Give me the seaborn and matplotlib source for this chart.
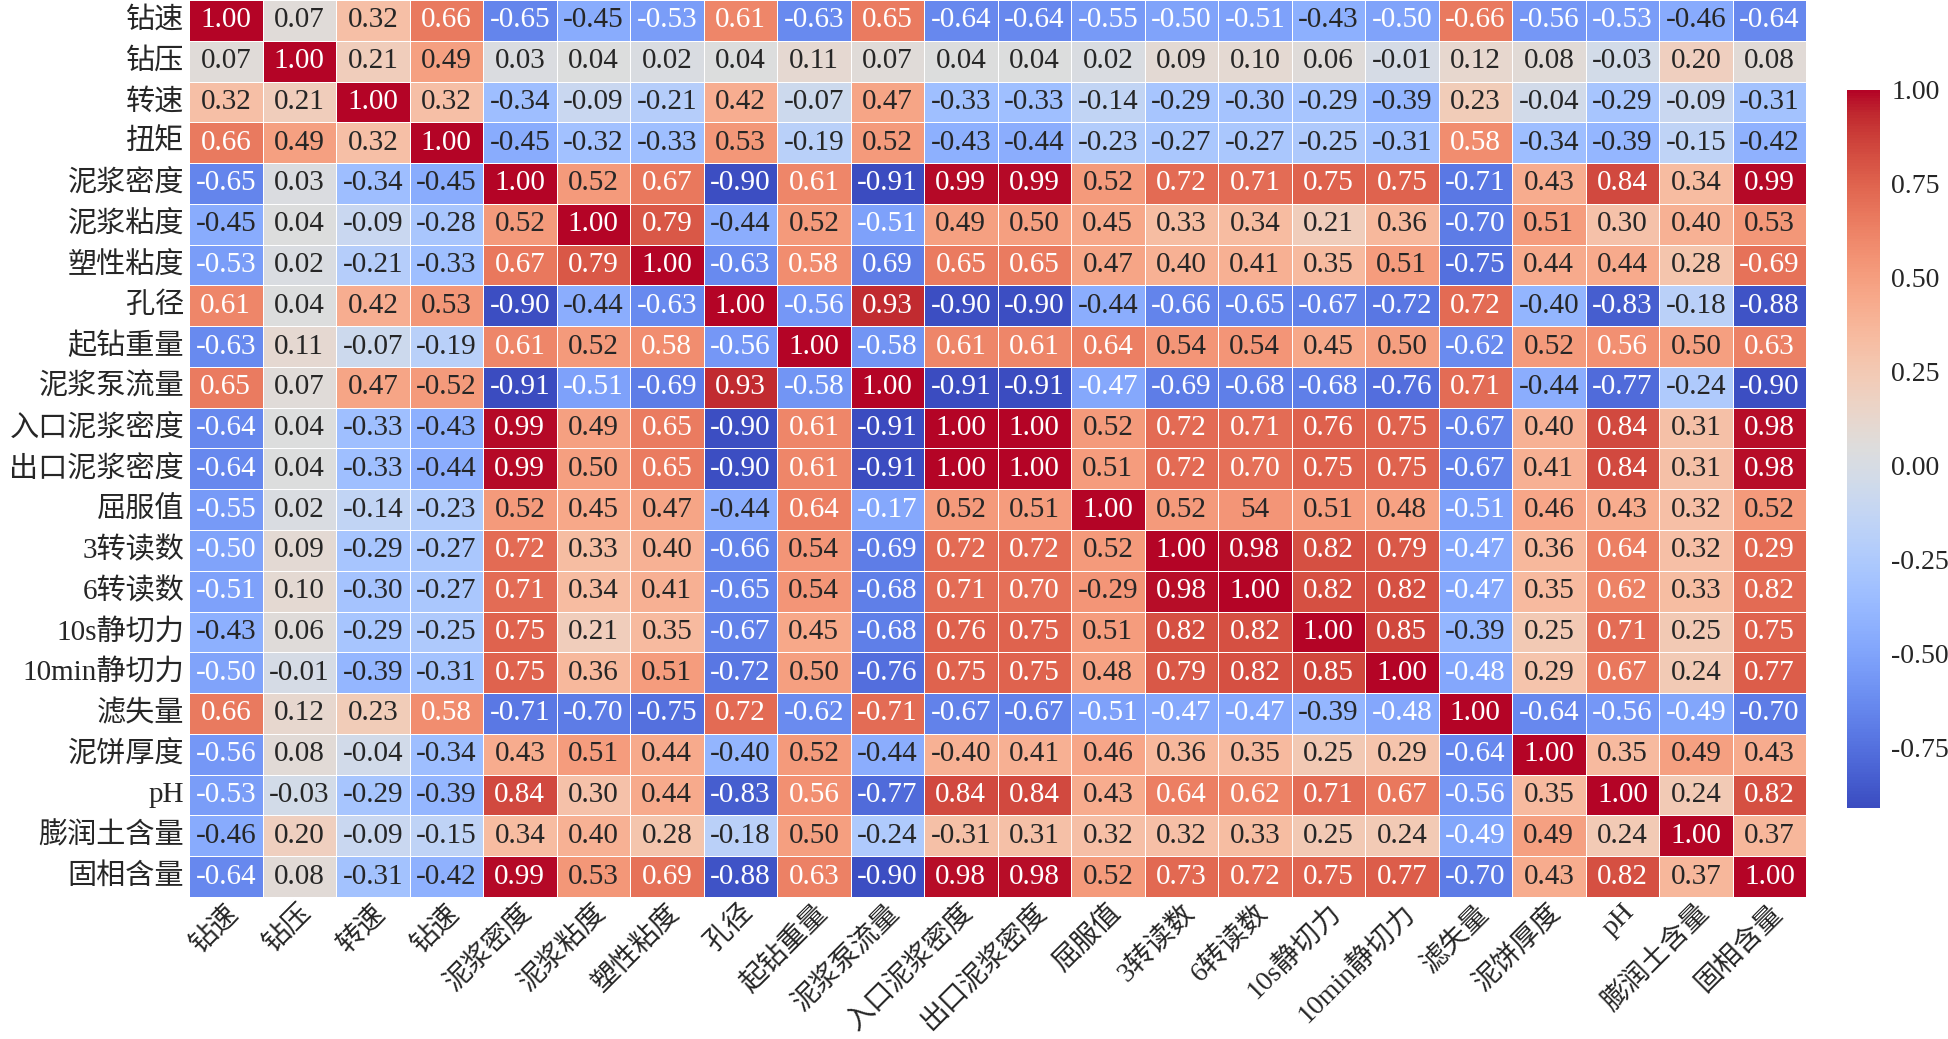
import numpy as np
import pandas as pd
import seaborn as sns
import matplotlib.pyplot as plt

sns.set_theme(style="white")
plt.rcParams['font.family'] = ['Liberation Serif', 'Noto Sans CJK SC', 'DejaVu Sans']
plt.rcParams['axes.unicode_minus'] = False

# row labels (y axis) and column labels (x axis, 4th one printed as 钻速 in the source)
row_names = ["钻速", "钻压", "转速", "扭矩", "泥浆密度", "泥浆粘度", "塑性粘度", "孔径",
             "起钻重量", "泥浆泵流量", "入口泥浆密度", "出口泥浆密度", "屈服值", "3转读数",
             "6转读数", "10s静切力", "10min静切力", "滤失量", "泥饼厚度", "pH",
             "膨润土含量", "固相含量"]
col_names = ["钻速", "钻压", "转速", "钻速"] + row_names[4:]

# correlation values (used for colour)
r_zuansu   = [1.00, 0.07, 0.32, 0.66, -0.65, -0.45, -0.53, 0.61, -0.63, 0.65, -0.64, -0.64, -0.55, -0.50, -0.51, -0.43, -0.50, 0.66, -0.56, -0.53, -0.46, -0.64]
r_zuanya   = [0.07, 1.00, 0.21, 0.49, 0.03, 0.04, 0.02, 0.04, 0.11, 0.07, 0.04, 0.04, 0.02, 0.09, 0.10, 0.06, -0.01, 0.12, 0.08, -0.03, 0.20, 0.08]
r_zhuansu  = [0.32, 0.21, 1.00, 0.32, -0.34, -0.09, -0.21, 0.42, -0.07, 0.47, -0.33, -0.33, -0.14, -0.29, -0.30, -0.29, -0.39, 0.23, -0.04, -0.29, -0.09, -0.31]
r_niuju    = [0.66, 0.49, 0.32, 1.00, -0.45, -0.32, -0.33, 0.53, -0.19, 0.52, -0.43, -0.44, -0.23, -0.27, -0.27, -0.25, -0.31, 0.58, -0.34, -0.39, -0.15, -0.42]
r_mud_den  = [-0.65, 0.03, -0.34, -0.45, 1.00, 0.52, 0.67, -0.90, 0.61, -0.91, 0.99, 0.99, 0.52, 0.72, 0.71, 0.75, 0.75, -0.71, 0.43, 0.84, 0.34, 0.99]
r_mud_vis  = [-0.45, 0.04, -0.09, -0.28, 0.52, 1.00, 0.79, -0.44, 0.52, -0.51, 0.49, 0.50, 0.45, 0.33, 0.34, 0.21, 0.36, -0.70, 0.51, 0.30, 0.40, 0.53]
r_pl_vis   = [-0.53, 0.02, -0.21, -0.33, 0.67, 0.79, 1.00, -0.63, 0.58, -0.69, 0.65, 0.65, 0.47, 0.40, 0.41, 0.35, 0.51, -0.75, 0.44, 0.44, 0.28, 0.69]
r_hole     = [0.61, 0.04, 0.42, 0.53, -0.90, -0.44, -0.63, 1.00, -0.56, 0.93, -0.90, -0.90, -0.44, -0.66, -0.65, -0.67, -0.72, 0.72, -0.40, -0.83, -0.18, -0.88]
r_trip_wt  = [-0.63, 0.11, -0.07, -0.19, 0.61, 0.52, 0.58, -0.56, 1.00, -0.58, 0.61, 0.61, 0.64, 0.54, 0.54, 0.45, 0.50, -0.62, 0.52, 0.56, 0.50, 0.63]
r_pump     = [0.65, 0.07, 0.47, 0.52, -0.91, -0.51, -0.69, 0.93, -0.58, 1.00, -0.91, -0.91, -0.47, -0.69, -0.68, -0.68, -0.76, 0.71, -0.44, -0.77, -0.24, -0.90]
r_in_den   = [-0.64, 0.04, -0.33, -0.43, 0.99, 0.49, 0.65, -0.90, 0.61, -0.91, 1.00, 1.00, 0.52, 0.72, 0.71, 0.76, 0.75, -0.67, 0.40, 0.84, 0.31, 0.98]
r_out_den  = [-0.64, 0.04, -0.33, -0.44, 0.99, 0.50, 0.65, -0.90, 0.61, -0.91, 1.00, 1.00, 0.51, 0.72, 0.70, 0.75, 0.75, -0.67, 0.41, 0.84, 0.31, 0.98]
r_yield    = [-0.55, 0.02, -0.14, -0.23, 0.52, 0.45, 0.47, -0.44, 0.64, -0.47, 0.52, 0.51, 1.00, 0.52, 0.54, 0.51, 0.48, -0.51, 0.46, 0.43, 0.32, 0.52]
r_rpm3     = [-0.50, 0.09, -0.29, -0.27, 0.72, 0.33, 0.40, -0.66, 0.54, -0.69, 0.72, 0.72, 0.52, 1.00, 0.98, 0.82, 0.79, -0.47, 0.36, 0.64, 0.32, 0.73]
r_rpm6     = [-0.51, 0.10, -0.30, -0.27, 0.71, 0.34, 0.41, -0.65, 0.54, -0.68, 0.71, 0.70, 0.54, 0.98, 1.00, 0.82, 0.82, -0.47, 0.35, 0.62, 0.33, 0.72]
r_gel10s   = [-0.43, 0.06, -0.29, -0.25, 0.75, 0.21, 0.35, -0.67, 0.45, -0.68, 0.76, 0.75, 0.51, 0.82, 0.82, 1.00, 0.85, -0.39, 0.25, 0.71, 0.25, 0.75]
r_gel10m   = [-0.50, -0.01, -0.39, -0.31, 0.75, 0.36, 0.51, -0.72, 0.50, -0.76, 0.75, 0.75, 0.48, 0.79, 0.82, 0.85, 1.00, -0.48, 0.29, 0.67, 0.24, 0.77]
r_fluid    = [0.66, 0.12, 0.23, 0.58, -0.71, -0.70, -0.75, 0.72, -0.62, 0.71, -0.67, -0.67, -0.51, -0.47, -0.47, -0.39, -0.48, 1.00, -0.64, -0.56, -0.49, -0.70]
r_cake     = [-0.56, 0.08, -0.04, -0.34, 0.43, 0.51, 0.44, -0.40, 0.52, -0.44, 0.40, 0.41, 0.46, 0.36, 0.35, 0.25, 0.29, -0.64, 1.00, 0.35, 0.49, 0.43]
r_ph       = [-0.53, -0.03, -0.29, -0.39, 0.84, 0.30, 0.44, -0.83, 0.56, -0.77, 0.84, 0.84, 0.43, 0.64, 0.62, 0.71, 0.67, -0.56, 0.35, 1.00, 0.24, 0.82]
r_bento    = [-0.46, 0.20, -0.09, -0.15, 0.34, 0.40, 0.28, -0.18, 0.50, -0.24, 0.31, 0.31, 0.32, 0.32, 0.33, 0.25, 0.24, -0.49, 0.49, 0.24, 1.00, 0.37]
r_solid    = [-0.64, 0.08, -0.31, -0.42, 0.99, 0.53, 0.69, -0.88, 0.63, -0.90, 0.98, 0.98, 0.52, 0.73, 0.72, 0.75, 0.77, -0.70, 0.43, 0.82, 0.37, 1.00]

# cells whose printed text differs from the colour value in the original figure
label_override = {
    (0, 17): "-0.66", (6, 9): "0.69", (6, 21): "-0.69", (9, 3): "-0.52",
    (12, 9): "-0.17", (12, 14): "54", (13, 21): "0.29", (14, 12): "-0.29",
    (14, 21): "0.82", (17, 9): "-0.71", (18, 10): "-0.40", (20, 10): "-0.31",
}

rows = [r_zuansu, r_zuanya, r_zhuansu, r_niuju, r_mud_den, r_mud_vis, r_pl_vis, r_hole,
        r_trip_wt, r_pump, r_in_den, r_out_den, r_yield, r_rpm3, r_rpm6, r_gel10s,
        r_gel10m, r_fluid, r_cake, r_ph, r_bento, r_solid]
corr = pd.DataFrame(np.array(rows), index=row_names, columns=col_names)

labels = corr.map(lambda v: f"{v:.2f}").values
for (i, j), txt in label_override.items():
    labels[i, j] = txt

fig = plt.figure(figsize=(19.49, 10.39), dpi=100)
ax = fig.add_axes([0.097, 0.1367, 0.8297, 0.8633])
cax = fig.add_axes([0.9477, 0.2223, 0.017, 0.6911])

sns.heatmap(corr, ax=ax, cbar_ax=cax, cmap="coolwarm", annot=labels, fmt="",
            annot_kws={"fontsize": 21}, linewidths=0.6, linecolor="white")

ax.tick_params(length=0)
ax.set_yticklabels(row_names, rotation=0, fontsize=21)
ax.set_xticklabels(col_names, rotation=45, ha="right", rotation_mode="anchor", fontsize=20)
ax.tick_params(axis="x", pad=2)

cax.tick_params(length=0, labelsize=20, pad=8)
cax.set_yticks([-0.75, -0.5, -0.25, 0, 0.25, 0.5, 0.75, 1.0])
cax.set_yticklabels(["-0.75", "-0.50", "-0.25", "0.00", "0.25", "0.50", "0.75", "1.00"])

fig.savefig("out.png", dpi=100)
